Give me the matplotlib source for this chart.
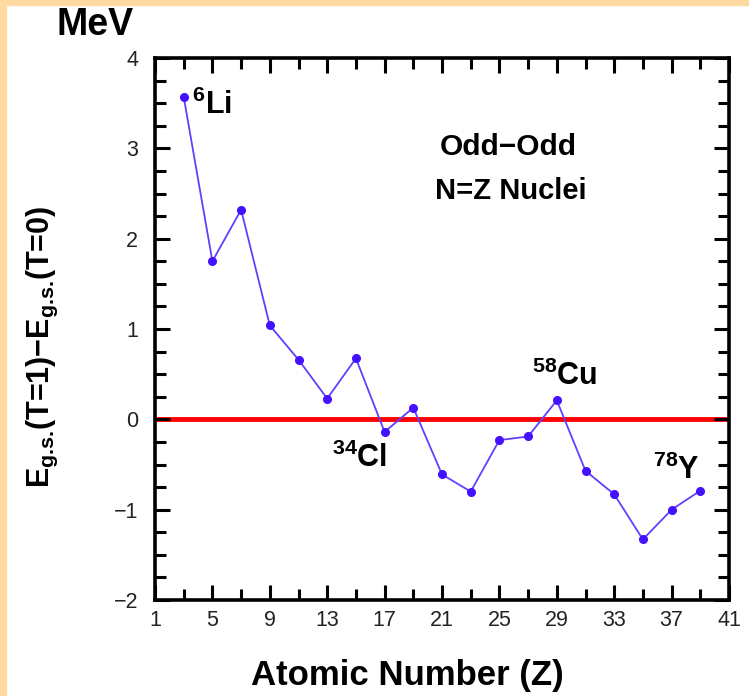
import numpy as np
import matplotlib
matplotlib.use('Agg')
import matplotlib.pyplot as plt
from matplotlib.patches import Rectangle
from matplotlib.ticker import MultipleLocator

plt.rcParams['font.family'] = ['Liberation Sans', 'DejaVu Sans']
plt.rcParams['mathtext.fontset'] = 'custom'
plt.rcParams['mathtext.rm'] = 'Liberation Sans:bold'
plt.rcParams['mathtext.bf'] = 'Liberation Sans:bold'

# odd-odd N=Z nuclei, atomic number and energy difference (MeV)
z = [3, 5, 7, 9, 11, 13, 15, 17, 19, 21, 23, 25, 27, 29, 31, 33, 35, 37, 39]
de = [3.57, 1.75, 2.32, 1.04, 0.66, 0.23, 0.675, -0.14, 0.13, -0.61, -0.80,
      -0.23, -0.19, 0.21, -0.57, -0.83, -1.33, -1.0, -0.79]

# labelled nuclei: (mass number, symbol, x, y)
labels = [('6', 'Li', 3.6, 3.3), ('34', 'Cl', 13.3, -0.6),
          ('58', 'Cu', 27.3, 0.3), ('78', 'Y', 35.7, -0.74)]

fig = plt.figure(figsize=(7.49, 6.96), dpi=100)
fig.patch.set_facecolor('white')
# cream frame strips (left and top)
fig.patches.append(Rectangle((0, 0), 6/749, 1, transform=fig.transFigure,
                             color='#FFD9A2', zorder=-1))
fig.patches.append(Rectangle((0, 1 - 5/696), 1, 5/696, transform=fig.transFigure,
                             color='#FFD9A2', zorder=-1))

ax = fig.add_axes([155/749, 1 - 600/696, 574/749, 542/696])

ax.axhline(0, color='#FF0000', lw=3.5, zorder=1)
ax.plot(z, de, color='#6040FF', lw=1.3, marker='o', ms=5.5,
        mfc='#4411FF', mec='#4411FF', zorder=3)

ax.set_xlim(1, 41)
ax.set_ylim(-2, 4)
ax.xaxis.set_major_locator(MultipleLocator(4, offset=1))
ax.xaxis.set_minor_locator(MultipleLocator(2, offset=1))
ax.yaxis.set_major_locator(MultipleLocator(1))
ax.yaxis.set_minor_locator(MultipleLocator(0.25))
ax.tick_params(which='both', direction='in', top=True, right=True,
               width=2.2, labelsize=15.5, colors='black', labelcolor='#222222')
ax.tick_params(which='major', length=10.5)
ax.tick_params(which='minor', length=8)
ax.tick_params(axis='x', which='major', pad=7)
ax.tick_params(axis='y', which='major', pad=12)
for s in ax.spines.values():
    s.set_linewidth(2.6)

for mass, sym, x, y in labels:
    ax.text(x, y, r'$^{\text{' + mass + '}}$' + sym, fontsize=22,
            fontweight='bold', ha='left', va='bottom')

ax.text(0.615, 0.835, 'Odd\u2212Odd', transform=ax.transAxes, fontsize=21.5,
        fontweight='bold', ha='center', va='center')
ax.text(0.62, 0.755, 'N=Z Nuclei', transform=ax.transAxes, fontsize=21,
        fontweight='bold', ha='center', va='center')

fig.text(95/749, 1 - 25/696, 'MeV', fontsize=27, fontweight='bold',
         ha='center', va='center')
fig.text(407/749, 1 - 676/696, 'Atomic Number (Z)', fontsize=25,
         fontweight='bold', ha='center', va='center')
fig.text(42/749, 1 - 347/696,
         r'E$_{\text{g.s.}}$(T=1)$\mathbf{-}$E$_{\text{g.s.}}$(T=0)',
         fontsize=22, fontweight='bold', rotation=90, ha='center', va='center')

fig.savefig('out.png', dpi=100, facecolor=fig.get_facecolor())
